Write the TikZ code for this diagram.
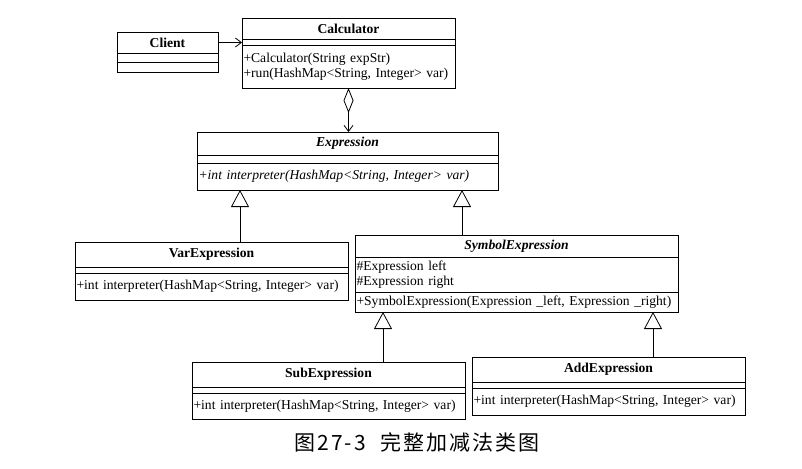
\documentclass[tikz,border=0pt]{standalone}
\usepackage{fontspec}
\setmainfont{Liberation Serif}
\newfontfamily\cjk[LetterSpace=10]{Noto Sans CJK SC}
\usetikzlibrary{arrows.meta,positioning}

\begin{document}
\begin{tikzpicture}[x=1pt,y=-1pt,line width=.8pt,font=\fontsize{13.6}{14.5}\selectfont,
 part/.style={draw,anchor=north west,inner xsep=1.5pt,inner ysep=0pt,outer sep=0pt,align=left},
 cname/.style={part,align=center,font=\fontsize{13.6}{14.5}\selectfont\bfseries},
 gen/.style={-{Triangle[open,length=17pt,width=18pt]}},
 nav/.style={-{Straight Barb[length=6pt,width=9pt]}}]
\useasboundingbox (0,0) rectangle (802,468);
% classes
\node[cname,minimum width=101pt,minimum height=21pt] (client) at (117,32) {Client};
\node[part,minimum width=101pt,minimum height=9pt,below=0pt of client] (client-a) {};
\node[part,minimum width=101pt,minimum height=10pt,below=0pt of client-a] (client-m) {};
\node[cname,minimum width=213pt,minimum height=21pt] (calc) at (242,18) {Calculator};
\node[part,minimum width=213pt,minimum height=6pt,below=0pt of calc] (calc-a) {};
\node[part,text width=210pt,minimum height=43pt,below=0pt of calc-a] (calc-m) {+Calculator(String expStr)\\+run(HashMap<String, Integer> var)};
\node[cname,font=\fontsize{13.6}{14.5}\selectfont\bfseries\itshape,minimum width=301pt,minimum height=23pt] (expr) at (197,132) {Expression};
\node[part,minimum width=301pt,minimum height=8pt,below=0pt of expr] (expr-a) {};
\node[part,font=\fontsize{13.6}{14.5}\selectfont\itshape,text width=298pt,minimum height=27pt,below=0pt of expr-a] (expr-m) {+int interpreter(HashMap<String, Integer> var)};
\node[cname,minimum width=273pt,minimum height=25pt] (var) at (75,242) {VarExpression};
\node[part,minimum width=273pt,minimum height=6pt,below=0pt of var] (var-a) {};
\node[part,text width=270pt,minimum height=27pt,below=0pt of var-a] (var-m) {+int interpreter(HashMap<String, Integer> var)};
\node[cname,font=\fontsize{13.6}{14.5}\selectfont\bfseries\itshape,minimum width=323pt,minimum height=22pt] (sym) at (355,235) {SymbolExpression};
\node[part,text width=320pt,minimum height=35pt,below=0pt of sym] (sym-a) {\#Expression left\\\#Expression right};
\node[part,text width=320pt,minimum height=20pt,below=0pt of sym-a] (sym-m) {+SymbolExpression(Expression \_left, Expression \_right)};
\node[cname,minimum width=273pt,minimum height=25pt] (sub) at (192,362) {SubExpression};
\node[part,minimum width=273pt,minimum height=6pt,below=0pt of sub] (sub-a) {};
\node[part,text width=270pt,minimum height=26pt,below=0pt of sub-a] (sub-m) {+int interpreter(HashMap<String, Integer> var)};
\node[cname,minimum width=273pt,minimum height=25pt] (add) at (472,357) {AddExpression};
\node[part,minimum width=273pt,minimum height=6pt,below=0pt of add] (add-a) {};
\node[part,text width=270pt,minimum height=27pt,below=0pt of add-a] (add-m) {+int interpreter(HashMap<String, Integer> var)};
% relations
\draw[nav] (client.east) -- (client.east -| calc.west);
\draw[{Diamond[open,length=25pt,width=10pt]}-{Straight Barb[length=6pt,width=9pt]}] (calc-m.south) -- (calc-m.south |- expr.north);
\coordinate (e1) at ([xshift=43pt]expr-m.south west);
\coordinate (e2) at ([xshift=-36pt]expr-m.south east);
\draw[gen] (var.north -| e1) -- (e1);
\draw[gen] (sym.north -| e2) -- (e2);
\coordinate (s1) at ([xshift=28pt]sym-m.south west);
\coordinate (s2) at ([xshift=-25pt]sym-m.south east);
\draw[gen] (sub.north -| s1) -- (s1);
\draw[gen] (add.north -| s2) -- (s2);
\node[font=\cjk\fontsize{21}{24}\selectfont] (cap) at (417,442) {图27-3\hspace{14pt}完整加减法类图};
\end{tikzpicture}
\end{document}
